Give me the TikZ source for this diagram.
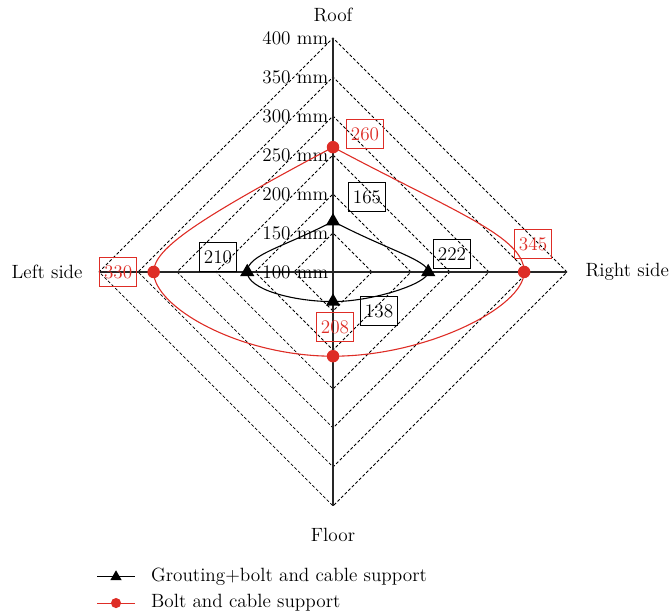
\documentclass[tikz,border=0pt]{standalone}
\usetikzlibrary{shapes.geometric,calc}
\definecolor{supred}{RGB}{222,45,38}

\begin{document}
\begin{tikzpicture}
  [font=\fontsize{14}{16}\selectfont,
    ringline/.style={dash pattern=on 2.2pt off 1.5pt, line width=0.6pt},
    axisline/.style={line width=0.8pt, black!85},
    redcurve/.style={supred, line width=0.8pt},
    blkcurve/.style={black, line width=0.8pt},
    blktri/.style={regular polygon, regular polygon sides=3, fill=black, inner sep=0pt, minimum size=0.42cm},
    reddot/.style={circle, fill=supred, inner sep=0pt, minimum size=0.32cm},
    blkbox/.style={draw, line width=0.7pt, inner sep=1pt, minimum width=0.95cm, minimum height=0.74cm},
    redbox/.style={blkbox, draw=supred, text=supred},
  ]
  \useasboundingbox (-8.54,-8.795) rectangle (8.615,6.974);

  % dashed rings, one per 50 mm
  \foreach \r in {1,...,6}
    \draw[ringline] (0:\r) -- (90:\r) -- (180:\r) -- (270:\r) -- cycle;

  \coordinate (roofend) at (0,6);
  \coordinate (floorend) at (0,-6);
  \coordinate (leftend) at (-6,0);
  \coordinate (rightend) at (6,0);
  \draw[axisline] (leftend) -- (rightend);
  \draw[axisline] (floorend) -- (roofend);

  \foreach \v [count=\i] in {100,150,...,400}
    \node[anchor=east] (mm\v) at (0,\i-1) {\v\ mm};

  \node (roof) at (0,6.59) {Roof};
  \node (floor) at (0,-6.74) {Floor};
  \node[anchor=east] (left) at (-6.3,0) {Left side};
  \node[anchor=west] (right) at (6.35,0) {Right side};

  % bolt and cable support
  \coordinate (rT) at (0,3.2);
  \coordinate (rR) at (4.9,0);
  \coordinate (rB) at (0,-2.16);
  \coordinate (rL) at (-4.6,0);
  \draw[redcurve] (rT) .. controls +(-28:3.6) and +(0,0.9) .. (rR)
    .. controls +(0,-0.9) and +(2.4,0) .. (rB)
    .. controls +(-2.4,0) and +(0,-0.9) .. (rL)
    .. controls +(0,0.6) and +(208:3.9) .. (rT);

  % grouting+bolt and cable support
  \coordinate (gT) at (0,1.3);
  \coordinate (gR) at (2.44,0);
  \coordinate (gB) at (0,-0.76);
  \coordinate (gL) at (-2.2,0);
  \draw[blkcurve] (gT) .. controls +(-28:1.5) and +(0,0.3) .. (gR)
    .. controls +(0,-0.3) and +(1.0,0) .. (gB)
    .. controls +(-1.0,0) and +(0,-0.45) .. (gL)
    .. controls +(0,0.45) and +(208:1.4) .. (gT);

  \foreach \p in {rT,rR,rB,rL}
    \node[reddot] at (\p) {};
  \foreach \p in {gT,gR,gB,gL}
    \node[blktri] at (\p) {};

  \node[redbox] (v260) at (0.82,3.54) {260};
  \node[redbox] (v345) at (5.13,0.72) {345};
  \node[redbox] (v208) at (0.05,-1.41) {208};
  \node[redbox] (v330) at (-5.51,0) {330};
  \node[blkbox] (v165) at (0.87,1.92) {165};
  \node[blkbox] (v222) at (3.05,0.46) {222};
  \node[blkbox] (v138) at (1.18,-1.0) {138};
  \node[blkbox] (v210) at (-2.95,0.38) {210};

  % legend
  \coordinate (lgA1) at (-6.05,-7.82);
  \coordinate (lgA2) at (-5.08,-7.82);
  \coordinate (lgB1) at (-6.05,-8.49);
  \coordinate (lgB2) at (-5.08,-8.49);
  \draw[blkcurve] (lgA1) -- (lgA2);
  \node[blktri, minimum size=0.34cm] at ($(lgA1)!0.5!(lgA2)$) {};
  \draw[redcurve] (lgB1) -- (lgB2);
  \node[reddot, minimum size=0.26cm] at ($(lgB1)!0.5!(lgB2)$) {};
  \node[anchor=west] (lgtextA) at (-4.79,-7.82) {Grouting+bolt and cable support};
  \node[anchor=west] (lgtextB) at (-4.79,-8.49) {Bolt and cable support};
\end{tikzpicture}
\end{document}
